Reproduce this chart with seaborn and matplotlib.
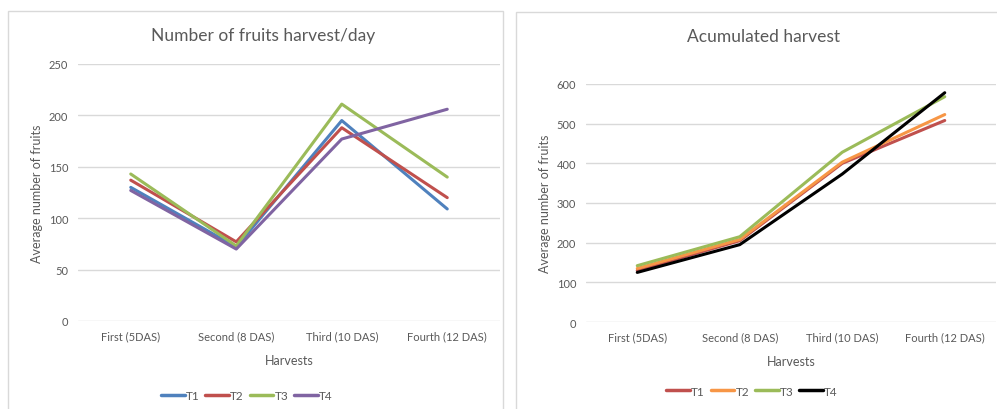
import numpy as np
import pandas as pd
import seaborn as sns
import matplotlib.pyplot as plt
from matplotlib.patches import Rectangle

# Data
harvests = ["First (5DAS)", "Second (8 DAS)", "Third (10 DAS)", "Fourth (12 DAS)"]
treatments = ["T1", "T2", "T3", "T4"]

daily_t1 = [130, 72, 195, 109]
daily_t2 = [137, 77, 188, 120]
daily_t3 = [143, 73, 211, 140]
daily_t4 = [127, 70, 177, 206]

acc_t1 = [130, 205, 400, 508]
acc_t2 = [135, 208, 403, 523]
acc_t3 = [142, 215, 428, 568]
acc_t4 = [125, 195, 373, 578]

daily_colors = ["#4F81BD", "#C0504D", "#9BBB59", "#8064A2"]
acc_colors = ["#C0504D", "#F79646", "#9BBB59", "#000000"]


def to_long(series):
    rows = []
    for name, vals in zip(treatments, series):
        for i, v in enumerate(vals):
            rows.append({"Harvest": i, "Treatment": name, "Value": v})
    return pd.DataFrame(rows)


df_daily = to_long([daily_t1, daily_t2, daily_t3, daily_t4])
df_acc = to_long([acc_t1, acc_t2, acc_t3, acc_t4])

sns.set_style("white")
plt.rcParams["font.family"] = ["Lato", "DejaVu Sans"]
txt = "#595959"

fig = plt.figure(figsize=(9.97, 4.10), dpi=100)

# panel frames like the Excel chart areas
fig.patches.append(Rectangle((8 / 997, -0.05), 495 / 997, 1 - 12 / 410 + 0.05,
                             transform=fig.transFigure, fill=False,
                             edgecolor="#D9D9D9", linewidth=1))
fig.patches.append(Rectangle((516 / 997, -0.05), 490 / 997, 1 - 13 / 410 + 0.05,
                             transform=fig.transFigure, fill=False,
                             edgecolor="#D9D9D9", linewidth=1))

ax1 = fig.add_axes([78 / 997, 1 - 322 / 410, 422 / 997, 257 / 410])
ax2 = fig.add_axes([586 / 997, 1 - 323 / 410, 410 / 997, 238 / 410])


def style(ax, df, colors, ylim, step, title, title_y, title_x, leg_x):
    sns.lineplot(data=df, x="Harvest", y="Value", hue="Treatment",
                 palette=colors, linewidth=2.2, ax=ax, legend=False)
    ax.set_xlim(-0.5, 3.5)
    ax.set_ylim(*ylim)
    ax.set_yticks(np.arange(ylim[0], ylim[1] + 1, step))
    ax.set_xticks(range(len(harvests)))
    ax.set_xticklabels(harvests)
    ax.grid(axis="y", color="#D9D9D9", linewidth=1)
    ax.set_axisbelow(True)
    for s in ax.spines.values():
        s.set_visible(False)
    ax.tick_params(axis="both", colors=txt, labelsize=8, length=0, pad=7)
    ax.set_xlabel("Harvests", color=txt, fontsize=9, labelpad=9)
    ax.set_ylabel("Average number of fruits", color=txt, fontsize=9, labelpad=4)
    fig.text(title_x, 1 - title_y / 410, title, ha="center", va="center",
             color=txt, fontsize=12.5)
    handles = [plt.Line2D([], [], color=c, linewidth=2.5) for c in colors]
    leg = ax.legend(handles, treatments, loc="center",
                    bbox_to_anchor=(leg_x, -0.29), ncol=4, frameon=False,
                    fontsize=8.5, handlelength=2.0, handletextpad=0.1,
                    columnspacing=0.5)
    for t in leg.get_texts():
        t.set_color(txt)


style(ax1, df_daily, daily_colors, (0, 250), 50,
      "Number of fruits harvest/day", 36, 263 / 997, 0.40)
style(ax2, df_acc, acc_colors, (0, 600), 100,
      "Acumulated harvest", 37, 763 / 997, 0.405)

fig.savefig("out.png", dpi=100)
